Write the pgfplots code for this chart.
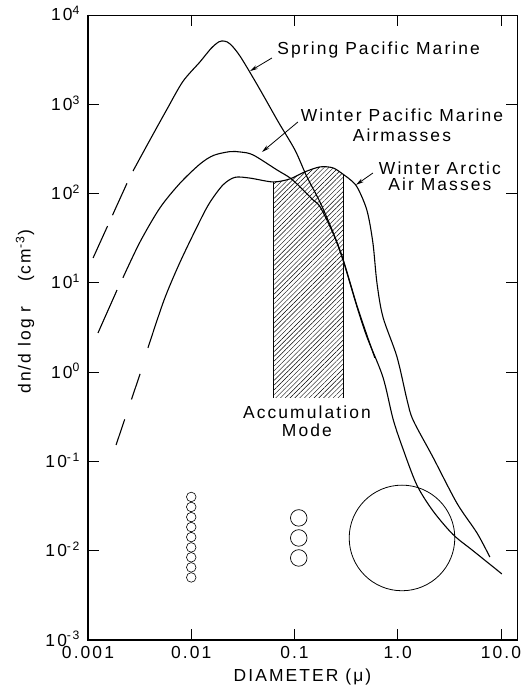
\documentclass[border=0pt]{standalone}
\usepackage{fontspec}
\setmainfont{Liberation Sans}[LetterSpace=12]
\usepackage{pgfplots}
\pgfplotsset{compat=1.18}
\usetikzlibrary{patterns.meta,arrows.meta}
\newcommand\lf{\fontsize{17.5}{20}\selectfont}
\begin{document}
\begin{tikzpicture}
\begin{axis}[
  name=ax,
  scale only axis,
  width=429bp, height=625bp,
  xmode=log, ymode=log,
  xmin=0.001, xmax=14.3, ymin=1e-3, ymax=1e4,
  xtick={0.001,0.01,0.1,1,10},
  xticklabels={0.001,0.01,0.1,1.0,10.0},
  ytick={1e-3,1e-2,1e-1,1,10,100,1000,10000},
  yticklabels={10\textsuperscript{-3},10\textsuperscript{-2},10\textsuperscript{-1},10\textsuperscript{0},10\textsuperscript{1},10\textsuperscript{2},10\textsuperscript{3},10\textsuperscript{4}},
  minor tick length=0pt,
  major tick length=11bp,
  tick style={black,line width=0.8pt},
  axis line style={line width=0.7pt},
  tick label style={font=\lf},
  yticklabel style={anchor=base east, inner sep=0pt, text depth=0pt, xshift=-8bp, yshift=-6bp},
  xticklabel style={anchor=north, inner sep=0pt, yshift=-6bp},
  label style={font=\lf},
  xlabel={DIAMETER (μ)},
  ylabel={dn/d log r\hspace{1.4em}(cm\textsuperscript{-3})},
  xlabel style={at={(axis description cs:0.5,-0.0592)},anchor=center},
  ylabel style={at={(axis description cs:-0.147,0.525)},anchor=center},
  clip=false,
]
\draw[line width=2.2pt] (rel axis cs:0,1) -- (rel axis cs:0,0) -- (rel axis cs:1,0);
% hatched accumulation mode
\addplot[draw=none, pattern={Lines[angle=45,distance=3.4pt,line width=0.45pt]}] coordinates {
(0.062,0.514) (0.062,135) (0.075,139) (0.0904,146) (0.105,158) (0.126,175) (0.15,190) (0.177,199) (0.2,200) (0.236,194) (0.265,182) (0.295,165) (0.295,0.514)};
\addplot[line width=0.5pt] coordinates {(0.062,0.514) (0.062,135)};
\addplot[line width=0.5pt] coordinates {(0.295,0.514) (0.295,165)};
% Spring Pacific Marine
\addplot[line width=1.1pt, dash pattern=on 35bp off 12bp] coordinates {(0.00112,19) (0.00239,131)};
\addplot[line width=1.1pt, smooth, tension=0.5] coordinates {
(0.00273,179) (0.00398,398) (0.00582,880) (0.0083,1800) (0.0122,3000) (0.0155,4200) (0.0185,5000) (0.021,5100) (0.024,4700) (0.03,3400) (0.045,1550) (0.07,630) (0.101,308) (0.132,154) (0.177,80) (0.236,37) (0.295,18.5) (0.40,5.7) (0.5,2.65) (0.6,1.45)};
% Winter Pacific Marine
\addplot[line width=1.1pt] coordinates {(0.00125,2.75) (0.00191,8.3)};
\addplot[line width=1.1pt, smooth, tension=0.5] coordinates {
(0.00218,11.4) (0.00319,28.7) (0.00497,69) (0.0078,131) (0.0122,215) (0.0165,268) (0.0237,295) (0.030,292) (0.0397,271) (0.0677,184) (0.0904,150) (0.113,119) (0.151,85) (0.177,71) (0.236,36) (0.295,18) (0.403,5.4) (0.503,2.48) (0.719,0.88) (0.90,0.30) (1.12,0.14) (1.53,0.0546) (2.19,0.0280) (3.43,0.0152) (5.36,0.0100) (10.2,0.0055)};
% Winter Arctic Air Masses
\addplot[line width=1.1pt, dash pattern=on 27bp off 21bp] coordinates {(0.00187,0.153) (0.00334,1.11)};
\addplot[line width=1.1pt, smooth, tension=0.5] coordinates {
(0.00381,1.87) (0.00545,6.4) (0.00778,17) (0.0122,50) (0.0152,80) (0.0203,125) (0.0265,152) (0.0371,149) (0.062,135) (0.0904,146) (0.126,175) (0.177,199) (0.236,194) (0.295,165) (0.33,150) (0.403,119) (0.503,65) (0.575,28) (0.629,10) (0.719,4.15) (0.984,1.48) (1.23,0.49) (1.41,0.29) (2.19,0.112) (3.75,0.034) (5.86,0.0158) (7.8,0.0085)};
% size circles
\addplot[only marks, mark=o, mark size=4.8pt, mark options={line width=0.6pt}] coordinates {
(0.01,0.0400) (0.01,0.0309) (0.01,0.0238) (0.01,0.0184) (0.01,0.0142) (0.01,0.0109) (0.01,0.00844) (0.01,0.00651) (0.01,0.00502)};
\addplot[only marks, mark=o, mark size=8.3pt, mark options={line width=0.7pt}] coordinates {
(0.11,0.0233) (0.11,0.0139) (0.11,0.0083)};
\addplot[only marks, mark=o, mark size=53pt, mark options={line width=0.8pt}] coordinates {(1.1,0.0139)};
% labels
\node[font=\lf, anchor=west] at (axis cs:0.0633,4055) {Spring Pacific Marine};
\draw[line width=0.8pt, -{Stealth[length=8pt,width=4pt]}] (axis cs:0.0605,3300) -- (axis cs:0.037,2350);
\node[font=\fontsize{17.5}{20}\selectfont, align=center] at (axis cs:1.099,586) {Winter Pacific Marine\\Airmasses};
\draw[line width=0.8pt, -{Stealth[length=8pt,width=4pt]}] (axis cs:0.108,634) -- (axis cs:0.0484,292);
\node[font=\fontsize{17.5}{16}\selectfont, align=center] at (axis cs:2.56,157) {Winter Arctic\\Air Masses};
\draw[line width=0.8pt, -{Stealth[length=8pt,width=4pt]}] (axis cs:0.575,170) -- (axis cs:0.394,125);
\node[font=\fontsize{17.5}{18}\selectfont, align=center] at (axis cs:0.132,0.284) {Accumulation\\Mode};
\end{axis}
\pgfresetboundingbox
\path ([shift={(-88bp,-48bp)}]ax.south west) rectangle ([shift={(8bp,15bp)}]ax.north east);
\end{tikzpicture}
\end{document}
